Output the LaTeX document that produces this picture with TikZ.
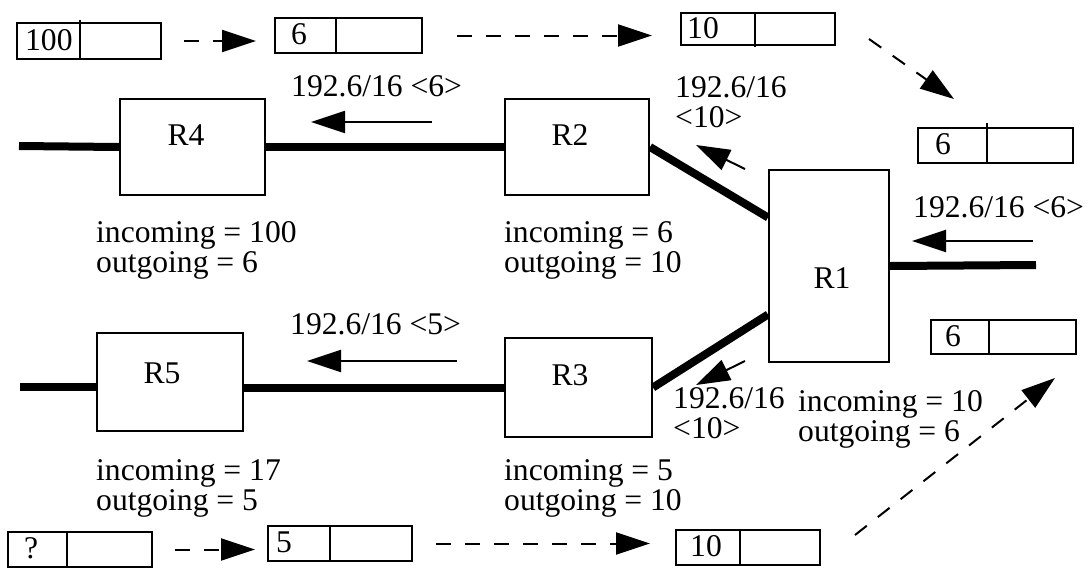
\documentclass[tikz,border=0pt]{standalone}
\usepackage{fontspec}
\setmainfont{Liberation Serif}
\usetikzlibrary{arrows.meta,calc}
\tikzset{
  cellbox/.style={draw, line width=2pt, inner sep=0pt, rectangle},
  router/.style={draw, line width=2pt, inner sep=0pt, rectangle},
  thinline/.style={line width=2pt},
  celltext/.style={inner sep=0pt, anchor=west},
  link/.style={line width=8pt},
  labarrow/.style={line width=2pt, -{Triangle[length=34pt,width=22pt]}},
  dasharrow/.style={line width=2pt, dash pattern=on 15pt off 14pt, -{Triangle[length=34pt,width=22pt]}},
  lbl/.style={inner sep=0pt, anchor=north west, align=left},
  rlbl/.style={inner sep=0pt, anchor=base},
}
\newcommand{\mkcell}[8]{%
  \node[cellbox, minimum width={(#4-#2)*1pt}, minimum height={(#5-#3)*1pt}, anchor=north west] (#1) at (#2,#3) {};
  \draw[thinline] (#6,#3) -- (#6,#5);
  \node[celltext] (#1t) at (#8,{(#3+#5)/2}) {#7};
}
\begin{document}
\begin{tikzpicture}[x=1pt,y=-1pt,font=\fontsize{31.6}{30}\selectfont]
\useasboundingbox (0,0) rectangle (1088,568);

% cell boxes top
\mkcell{b100}{16}{22}{160}{58}{80}{100}{25}
\draw[thinline] (80,20) -- (80,22);
\mkcell{b6}{274}{17}{421}{52}{336}{6}{291}
\mkcell{b10}{680}{12}{834}{44}{755}{10}{687}
\draw[thinline] (755,44) -- (755,47);
\mkcell{b6a}{917}{127}{1072}{162}{987}{6}{935}
\draw[thinline] (987,123) -- (987,127);
\mkcell{b6b}{930}{319}{1075}{353}{989}{6}{945}
% cell boxes bottom
\mkcell{bq}{7}{531}{151}{566}{67}{?}{24}
\mkcell{b5}{267}{525}{411}{560}{330}{5}{276}
\mkcell{b10b}{675}{529}{819}{564}{740}{10}{690}

% dashed arrows
\draw[dasharrow, shorten <=22pt, shorten >=18pt] (b100.east) -- (b100.east -| b6.west);
\draw[dasharrow, shorten <=34pt, shorten >=28pt] (b6.east) -- (b6.east -| b10.west);
\draw[dasharrow] ([shift={(33,10)}]b10.east) -- ([shift={(37,-28)}]b6a.north west);
\draw[dasharrow] ([shift={(34,6)}]b10b.north east) -- ([shift={(-22,23)}]b6b.south east);
\draw[dasharrow, shorten <=22pt, shorten >=12pt] (bq.east) -- (bq.east -| b5.west);
\draw[dasharrow, shorten <=23pt, shorten >=25pt] (b5.east) -- (b5.east -| b10b.west);

% routers
\node[router, minimum width=145pt, minimum height=96pt, anchor=north west] (R4) at (119,98) {};
\node[router, minimum width=144pt, minimum height=96pt, anchor=north west] (R2) at (504,98) {};
\node[router, minimum width=120pt, minimum height=192pt, anchor=north west] (R1) at (768,169) {};
\node[router, minimum width=146pt, minimum height=98pt, anchor=north west] (R5) at (96,332) {};
\node[router, minimum width=147pt, minimum height=99pt, anchor=north west] (R3) at (504,337) {};
\node[rlbl] (R4l) at (186,145) {R4};
\node[rlbl] (R2l) at (570,145) {R2};
\node[rlbl] (R1l) at (832,288) {R1};
\node[rlbl] (R5l) at (162,383) {R5};
\node[rlbl] (R3l) at (570,385) {R3};

% links
\coordinate (L4) at (19,146);
\coordinate (L5) at (20,386.5);
\coordinate (L1) at (1036,265);
\draw[link] (L4) -- (R4.west);
\draw[link] (R4.east) -- (R2.west);
\draw[link] (L5) -- (L5 -| R5.west);
\draw[link] (R5.east |- R3.west) -- (R3.west);
\draw[link] (R2.east) -- ($(R1.north west)!0.25!(R1.south west)$);
\draw[link] (R3.east) -- ($(R1.north west)!0.75!(R1.south west)$);
\draw[link] (R1.east) -- (L1);

% label arrows
\coordinate (a1s) at (432,122); \coordinate (a1e) at (311,122);
\coordinate (a2s) at (457,361); \coordinate (a2e) at (307,361);
\coordinate (a3s) at (1033,241); \coordinate (a3e) at (912,241);
\coordinate (a4s) at (745,169); \coordinate (a4e) at (696,145);
\coordinate (a5s) at (745,361); \coordinate (a5e) at (696,385);
\draw[labarrow] (a1s) -- (a1e);
\draw[labarrow] (a2s) -- (a2e);
\draw[labarrow] (a3s) -- (a3e);
\draw[labarrow] (a4s) -- (a4e);
\draw[labarrow] (a5s) -- (a5e);

% texts
\node[lbl] (t1) at (291,75) {192.6/16 <6>};
\node[lbl] (t2) at (675,76) {192.6/16\\<10>};
\node[lbl] (t3) at (913,196) {192.6/16 <6>};
\node[lbl] (t4) at (290,313) {192.6/16 <5>};
\node[lbl] (t5) at (673,387) {192.6/16\\<10>};
\node[lbl] (t6) at (798,390) {incoming = 10\\outgoing = 6};
\node[lbl] (t7) at (96,221) {incoming = 100\\outgoing = 6};
\node[lbl] (t8) at (504,221) {incoming = 6\\outgoing = 10};
\node[lbl] (t9) at (96,459) {incoming = 17\\outgoing = 5};
\node[lbl] (t10) at (504,459) {incoming = 5\\outgoing = 10};
\end{tikzpicture}
\end{document}
